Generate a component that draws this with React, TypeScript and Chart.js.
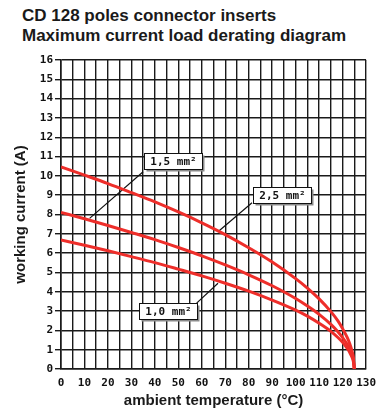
import React, { useEffect, useRef } from 'react';
import { Chart, registerables } from 'chart.js';

Chart.register(...registerables);

// ambient temperature (°C) sample points
const temps = [0, 10, 20, 30, 40, 50, 60, 70, 80, 90, 100, 105, 110, 115, 118, 120, 122, 123, 124, 124.6, 125];
// working current (A) per conductor cross-section
const current25 = [10.47, 10.04, 9.6, 9.13, 8.65, 8.13, 7.57, 6.96, 6.28, 5.54, 4.68, 4.19, 3.63, 2.97, 2.49, 2.09, 1.62, 1.32, 0.94, 0.59, 0];
const current15 = [8.11, 7.78, 7.43, 7.07, 6.7, 6.29, 5.86, 5.39, 4.88, 4.31, 3.65, 3.26, 2.83, 2.31, 1.93, 1.63, 1.27, 1.03, 0.73, 0.46, 0];
const current10 = [6.68, 6.41, 6.12, 5.82, 5.51, 5.17, 4.82, 4.44, 4.03, 3.57, 3.05, 2.74, 2.37, 1.95, 1.63, 1.38, 1.06, 0.86, 0.61, 0.38, 0];

const seriesLabels = ['2,5 mm²', '1,5 mm²', '1,0 mm²'];
// label box centres (data coordinates)
const labelTemps = [94.2, 47.8, 45.7];
const labelCurrents = [9.02, 10.75, 2.98];
// leader lines (data coordinates)
const leaderFromTemps = [81.4, 35.0, 57.8];
const leaderFromCurrents = [8.61, 10.21, 3.41];
const leaderToTemps = [66.9, 12.2, 66.9];
const leaderToCurrents = [7.11, 7.8, 4.44];

const titleLines = ['CD 128 poles connector inserts', 'Maximum current load derating diagram'];
const xTitle = 'ambient temperature (°C)';
const yTitle = 'working current (A)';

const RED = 'rgb(238, 46, 42)';
const GRID = '#1a1a1a';
const MONO = '"DejaVu Sans Mono", monospace';
const SANS = '"Liberation Sans", Arial, sans-serif';

const labelBoxes = {
  id: 'labelBoxes',
  afterDatasetsDraw(chart: any) {
    const { ctx } = chart;
    const x = chart.scales.x;
    const y = chart.scales.y;
    ctx.save();
    ctx.font = `bold 11px ${MONO}`;
    seriesLabels.forEach((txt, i) => {
      const cx = x.getPixelForValue(labelTemps[i]);
      const cy = y.getPixelForValue(labelCurrents[i]);
      const w = 58;
      const h = 16;
      const l = Math.round(cx - w / 2) + 0.5;
      const t = Math.round(cy - h / 2) + 0.5;
      ctx.fillStyle = '#8a8a8a';
      ctx.fillRect(l + 2, t + 2, w, h);
      ctx.fillStyle = '#fff';
      ctx.fillRect(l, t, w, h);
      ctx.strokeStyle = '#111';
      ctx.lineWidth = 1;
      ctx.strokeRect(l, t, w, h);
      ctx.fillStyle = '#111';
      ctx.textAlign = 'center';
      ctx.textBaseline = 'middle';
      ctx.fillText(txt, l + w / 2, t + h / 2 + 1);
    });
    ctx.restore();
  },
};

export default function App() {
  const ref = useRef<HTMLCanvasElement | null>(null);

  useEffect(() => {
    if (!ref.current) return;
    const curves = [current25, current15, current10].map((vals, i) => ({
      label: seriesLabels[i],
      data: temps.map((t, k) => ({ x: t, y: vals[k] })),
      borderColor: RED,
      borderWidth: 3,
      pointRadius: 0,
      fill: false,
      cubicInterpolationMode: 'monotone' as const,
    }));
    const leaders = seriesLabels.map((lab, i) => ({
      label: 'leader ' + lab,
      data: [
        { x: leaderFromTemps[i], y: leaderFromCurrents[i] },
        { x: leaderToTemps[i], y: leaderToCurrents[i] },
      ],
      borderColor: '#111',
      borderWidth: 1.2,
      pointRadius: 0,
      fill: false,
    }));

    const chart = new Chart(ref.current, {
      type: 'line',
      data: { datasets: [...curves, ...leaders] as any },
      options: {
        responsive: false,
        animation: false,
        layout: { padding: { top: 60, right: 11, left: 0, bottom: 0 } },
        plugins: {
          legend: { display: false },
          tooltip: { enabled: false },
          title: { display: false },
        },
        scales: {
          x: {
            type: 'linear',
            min: 0,
            max: 130,
            afterFit: (s: any) => {
              s.height = 44;
            },
            ticks: {
              stepSize: 5,
              autoSkip: false,
              maxRotation: 0,
              padding: 8,
              color: '#111',
              font: { family: MONO, size: 11, weight: 'bold' },
              callback: (v: any) => (Number(v) % 10 === 0 ? String(v) : ''),
            },
            grid: { color: GRID, lineWidth: 1.4, drawTicks: false },
            border: { color: GRID, width: 1.6 },
            title: {
              display: true,
              text: xTitle,
              color: '#1a1a1a',
              font: { family: SANS, size: 15, weight: 'bold' },
              padding: { top: 0, bottom: 3 },
            },
          },
          y: {
            type: 'linear',
            min: 0,
            max: 16,
            afterFit: (s: any) => {
              s.width = 61;
            },
            ticks: {
              stepSize: 1,
              autoSkip: false,
              padding: 2,
              color: '#111',
              font: { family: MONO, size: 11, weight: 'bold' },
            },
            grid: { color: GRID, lineWidth: 1.4, tickLength: 6 },
            border: { color: GRID, width: 1.6 },
            title: {
              display: true,
              text: yTitle,
              color: '#1a1a1a',
              font: { family: SANS, size: 15, weight: 'bold' },
              padding: { top: 12, bottom: 0 },
            },
          },
        },
      },
      plugins: [labelBoxes],
    });
    return () => chart.destroy();
  }, []);

  return (
    <div style={{ position: 'fixed', left: 0, top: 0, width: 384, height: 413, background: '#fff' }}>
      <div
        style={{
          position: 'absolute',
          left: 22,
          top: 6,
          fontFamily: SANS,
          fontWeight: 'bold',
          fontSize: 17,
          lineHeight: '19.5px',
          color: '#1a1a1a',
          whiteSpace: 'nowrap',
        }}
      >
        {titleLines.map((t) => (
          <div key={t}>{t}</div>
        ))}
      </div>
      <canvas ref={ref} width={384} height={413} style={{ position: 'absolute', left: 0, top: 0 }} />
    </div>
  );
}
